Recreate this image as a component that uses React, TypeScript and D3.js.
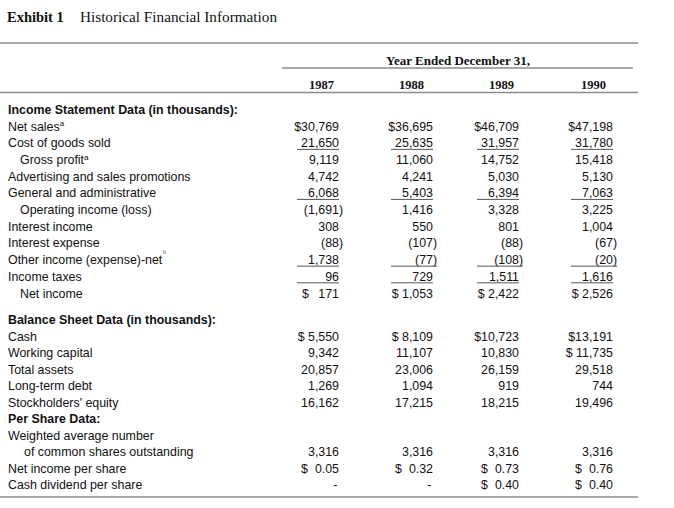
import React from "react";
import * as d3 from "d3";

const years = ["1987", "1988", "1989", "1990"];

const netSales = [30769, 36695, 46709, 47198];
const costOfGoods = [21650, 25635, 31957, 31780];
const grossProfit = [9119, 11060, 14752, 15418];
const advertising = [4742, 4241, 5030, 5130];
const generalAdmin = [6068, 5403, 6394, 7063];
const operatingIncome = [-1691, 1416, 3328, 3225];
const interestIncome = [308, 550, 801, 1004];
const interestExpense = [-88, -107, -88, -67];
const otherIncome = [1738, -77, -108, -20];
const incomeTaxes = [96, 729, 1511, 1616];
const netIncome = [171, 1053, 2422, 2526];

const cash = [5550, 8109, 10723, 13191];
const workingCapital = [9342, 11107, 10830, 11735];
const totalAssets = [20857, 23006, 26159, 29518];
const longTermDebt = [1269, 1094, 919, 744];
const equity = [16162, 17215, 18215, 19496];
const sharesOutstanding = [3316, 3316, 3316, 3316];
const netIncomePerShare = [0.05, 0.32, 0.73, 0.76];
const dividendPerShare: (number | null)[] = [null, null, 0.4, 0.4];
const workingCapitalDollar = [false, false, false, true];

type Fmt = "plain" | "dollar" | "dollarSpace" | "perShare";
type Row = {
  label: string;
  indent?: number;
  bold?: boolean;
  values?: (number | null)[];
  fmt?: Fmt[] | Fmt;
  underline?: boolean;
  sup?: string;
};

const incomeRows: Row[] = [
  { label: "Income Statement Data (in thousands):", bold: true },
  { label: "Net sales", values: netSales, fmt: "dollar", sup: "a" },
  { label: "Cost of goods sold", values: costOfGoods, underline: true },
  { label: "Gross profit", indent: 1, values: grossProfit, sup: "a" },
  { label: "Advertising and sales promotions", values: advertising },
  { label: "General and administrative", values: generalAdmin, underline: true },
  { label: "Operating income (loss)", indent: 1, values: operatingIncome },
  { label: "Interest income", values: interestIncome },
  { label: "Interest expense", values: interestExpense },
  { label: "Other income (expense)-net", values: otherIncome, underline: true, sup: "b" },
  { label: "Income taxes", values: incomeTaxes, underline: true },
  { label: "Net income", indent: 1, values: netIncome, fmt: "dollar" },
];

const balanceRows: Row[] = [
  { label: "Balance Sheet Data (in thousands):", bold: true },
  { label: "Cash", values: cash, fmt: "dollar" },
  {
    label: "Working capital",
    values: workingCapital,
    fmt: workingCapitalDollar.map((d) => (d ? "dollarSpace" : "plain")) as Fmt[],
  },
  { label: "Total assets", values: totalAssets },
  { label: "Long-term debt", values: longTermDebt },
  { label: "Stockholders' equity", values: equity },
  { label: "Per Share Data:", bold: true },
  { label: "Weighted average number" },
  { label: "of common shares outstanding", indent: 2, values: sharesOutstanding },
  { label: "Net income per share", values: netIncomePerShare, fmt: "perShare" },
  { label: "Cash dividend per share", values: dividendPerShare, fmt: "perShare" },
];

const SANS = "'Liberation Sans', Arial, Helvetica, sans-serif";
const SERIF = "'Liberation Serif', 'Times New Roman', serif";
const FS = 12.4;
const TEXT = "#111";
const RULE = "#8c8c8c";

const colX = d3.scaleOrdinal<string, number>().domain(years).range([339, 433, 519, 613]);
const yearX = d3.scaleOrdinal<string, number>().domain(years).range([334, 424, 514, 606]);
const incomeY = d3.scaleLinear().domain([0, 11]).range([114, 297.5]);
const balanceY = d3.scaleLinear().domain([0, 10]).range([324, 489]);

const num = d3.format(",");

function formatCell(v: number | null, fmt: Fmt): string {
  if (v === null) return "-";
  if (fmt === "perShare") return "$\u2007" + v.toFixed(2);
  const body = v < 0 ? "(" + num(-v) + ")" : num(v);
  if (fmt === "dollar") {
    if (v >= 10000) return "$" + body;
    if (v >= 1000) return "$ " + body;
    return "$\u2007\u2009" + body;
  }
  if (fmt === "dollarSpace") return "$ " + body;
  return body;
}

function renderRows(rows: Row[], y: d3.ScaleLinear<number, number>, key: string) {
  return rows.map((r, i) => {
    const by = y(i);
    const lx = 8 + (r.indent === 1 ? 12 : r.indent === 2 ? 16 : 0);
    const out: React.ReactNode[] = [];
    out.push(
      <text
        key={key + "l" + i}
        x={lx}
        y={by}
        fontFamily={SANS}
        fontSize={FS}
        fontWeight={r.bold ? "bold" : "normal"}
        fill={TEXT}
      >
        {r.label}
        {r.sup && r.sup !== "b" ? (
          <tspan fontSize={8} dy={-4.5}>
            {r.sup}
          </tspan>
        ) : null}
      </text>
    );
    if (r.sup === "b") {
      out.push(
        <text key={key + "s" + i} x={163} y={by - 10} fontFamily={SANS} fontSize={5.5} fill="#666">
          b
        </text>
      );
    }
    if (r.values) {
      r.values.forEach((v, j) => {
        const yr = years[j];
        const fmt: Fmt = Array.isArray(r.fmt) ? r.fmt[j] : r.fmt || "plain";
        const neg = v !== null && v < 0;
        const right = colX(yr) + (neg ? 4.1 : 0) - (v === null ? 1.5 : 0);
        out.push(
          <text
            key={key + "v" + i + "-" + j}
            x={right}
            y={by}
            textAnchor="end"
            fontFamily={SANS}
            fontSize={FS}
            fill={TEXT}
            style={{ whiteSpace: "pre" }}
          >
            {formatCell(v, fmt)}
          </text>
        );
        if (r.underline) {
          out.push(
            <line
              key={key + "u" + i + "-" + j}
              x1={colX(yr) - 42}
              x2={right}
              y1={by + 2}
              y2={by + 2}
              stroke="#555"
              strokeWidth={1}
            />
          );
        }
      });
    }
    return <g key={key + i}>{out}</g>;
  });
}

export default function App() {
  return (
    <svg
      width={674}
      height={508}
      style={{ position: "absolute", left: 0, top: 0, background: "#fff" }}
    >
      <rect width={674} height={508} fill="#fff" />
      <text x={7} y={22} fontFamily={SERIF} fontSize={14.5} fill={TEXT}>
        <tspan fontWeight="bold">Exhibit 1</tspan>
      </text>
      <text x={80} y={22} fontFamily={SERIF} fontSize={14.5} fill={TEXT} textLength={197} lengthAdjust="spacingAndGlyphs">
        Historical Financial Information
      </text>

      <line x1={0} x2={638} y1={43} y2={43} stroke={RULE} strokeWidth={1.6} />
      <text x={458} y={65} textAnchor="middle" fontFamily={SERIF} fontSize={13} fontWeight="bold" fill={TEXT}>
        Year Ended December 31,
      </text>
      <line x1={282} x2={633} y1={68} y2={68} stroke={RULE} strokeWidth={1.4} />
      {years.map((yr) => (
        <text
          key={yr}
          x={yearX(yr)}
          y={89}
          textAnchor="end"
          fontFamily={SERIF}
          fontSize={12.5}
          fontWeight="bold"
          fill={TEXT}
        >
          {yr}
        </text>
      ))}
      <line x1={0} x2={638} y1={92.5} y2={92.5} stroke={RULE} strokeWidth={1.6} />

      {renderRows(incomeRows, incomeY, "inc")}
      {renderRows(balanceRows, balanceY, "bal")}

      <line x1={0} x2={638} y1={497} y2={497} stroke={RULE} strokeWidth={1.6} />
    </svg>
  );
}
